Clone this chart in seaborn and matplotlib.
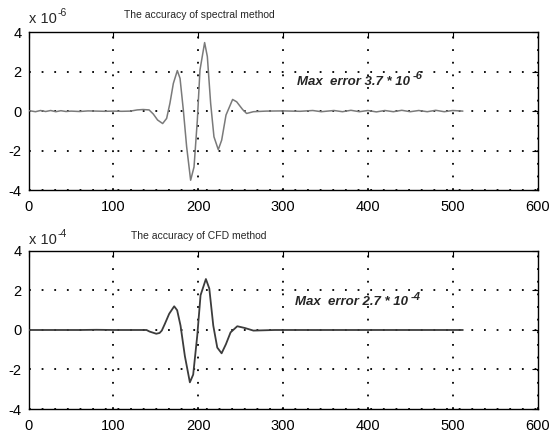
import numpy as np
import pandas as pd
import matplotlib
matplotlib.use('Agg')
import matplotlib.pyplot as plt
import seaborn as sns

# Error curve of the spectral method (values in units of 1e-6)
spectral_x = [1, 8, 14, 20, 26, 32, 38, 44, 50, 60, 70, 80, 90, 100, 110, 120, 128,
              135, 142, 147, 152, 158, 162.7, 166.6, 170.6, 175.3, 178.5, 182.4, 186.3,
              191, 195, 198.9, 202, 207.5, 210.7, 214.6, 218.5, 223.6, 227.6, 232.7,
              240.5, 245.3, 252.3, 257, 265, 280, 300, 320, 335, 345, 360, 370, 380,
              390, 400, 410, 420, 430, 440, 450, 460, 470, 480, 490, 500, 512]
spectral_y = [0.02, -0.03, 0.03, -0.02, 0.03, -0.03, 0.02, -0.02, 0.0, -0.02, 0.01, 0.0,
              -0.01, 0.0, -0.01, 0.0, 0.06, 0.08, 0.06, -0.15, -0.45, -0.63, -0.37, 0.4,
              1.4, 2.05, 1.66, 0.05, -1.81, -3.5, -2.83, -0.46, 2.08, 3.47, 2.76, 0.39,
              -1.3, -1.95, -1.47, -0.2, 0.59, 0.47, 0.08, -0.12, -0.03, 0.0, 0.01, -0.01,
              0.03, -0.03, 0.03, -0.03, 0.04, -0.03, 0.03, -0.04, 0.03, -0.03, 0.04,
              -0.03, 0.03, -0.03, 0.04, -0.03, 0.03, 0.0]

# Error curve of the CFD method (values in units of 1e-4)
cfd_x = [1, 20, 40, 60, 80, 100, 120, 139, 142.6, 150.5, 154.4, 157, 160.6, 165.7,
         171.6, 175.1, 179.1, 184.2, 190.1, 194, 198.8, 202.7, 209, 213, 217.7, 222.4,
         227.5, 232.6, 238.1, 246, 255, 265, 290, 320, 360, 400, 440, 480, 512]
cfd_y = [0.0, 0.0, 0.0, 0.0, 0.01, 0.0, 0.0, 0.0, -0.08, -0.19, -0.15, -0.03, 0.31, 0.82,
         1.2, 1.0, 0.22, -1.32, -2.65, -2.26, -0.29, 1.76, 2.58, 2.1, 0.22, -0.89,
         -1.18, -0.72, -0.12, 0.19, 0.1, -0.03, 0.0, 0.0, 0.0, 0.0, 0.0, 0.0, 0.0]

titles = ['The accuracy of spectral method', 'The accuracy of CFD method']
exponents = ['-6', '-4']
max_errors = ['3.7', '2.7']
x_ticks = [0, 100, 200, 300, 400, 500, 600]
y_ticks = [-4, -2, 0, 2, 4]

sns.set_style('white')
plt.rcParams['font.family'] = ['Liberation Sans', 'DejaVu Sans']
plt.rcParams['axes.unicode_minus'] = False

fig = plt.figure(figsize=(5.51, 4.34), dpi=100)
ax_top = fig.add_axes([0.052, 0.562, 0.9235, 0.364])
ax_bot = fig.add_axes([0.052, 0.0576, 0.9235, 0.3641])

series = [(spectral_x, spectral_y, '#7a7a7a', 1.1),
          (cfd_x, cfd_y, '#3c3c3c', 1.3)]
text_pos = [(316, 1.49), (314, 1.41)]
title_y = [0.965, 0.456]
offset_y = [0.956, 0.448]

for i, ax in enumerate([ax_top, ax_bot]):
    xs, ys, col, lw = series[i]
    df = pd.DataFrame({'x': xs, 'y': ys})
    sns.lineplot(data=df, x='x', y='y', ax=ax, color=col, linewidth=lw,
                 sort=False, estimator=None, zorder=3)
    ax.set_xlim(0, 600)
    ax.set_ylim(-4, 4)
    ax.set_xticks(x_ticks)
    ax.set_yticks(y_ticks)
    ax.set_xlabel('')
    ax.set_ylabel('')
    ax.grid(True, color='black', linestyle=(0, (1, 6)), linewidth=1.3)
    ax.set_axisbelow(True)
    ax.tick_params(direction='in', length=4, width=0.8, top=True, right=True,
                   labelsize=10.5, colors='black')
    ax.tick_params(axis='x', pad=7)
    ax.tick_params(axis='y', pad=5)
    for s in ax.spines.values():
        s.set_color('black')
        s.set_linewidth(1.0)

    # panel title and axis multiplier
    fig.text(0.361, title_y[i], titles[i], fontsize=7.5, ha='center', va='center')
    t = fig.text(0.052, offset_y[i], 'x 10', fontsize=10.5, ha='left', va='center')
    ax.annotate(exponents[i], xy=(1.0, 0.55), xycoords=t, xytext=(1, 0),
                textcoords='offset points', fontsize=7.5, ha='left', va='bottom')

    # max error label
    tx, ty = text_pos[i]
    m = ax.text(tx, ty, 'Max  error ' + max_errors[i] + ' * 10', fontsize=9.5,
                fontweight='bold', fontstyle='italic', ha='left', va='center')
    ax.annotate(exponents[i], xy=(1.0, 0.55), xycoords=m, xytext=(2, 0),
                textcoords='offset points', fontsize=8, fontweight='bold',
                fontstyle='italic', ha='left', va='bottom')

fig.savefig('out.png', dpi=100)
